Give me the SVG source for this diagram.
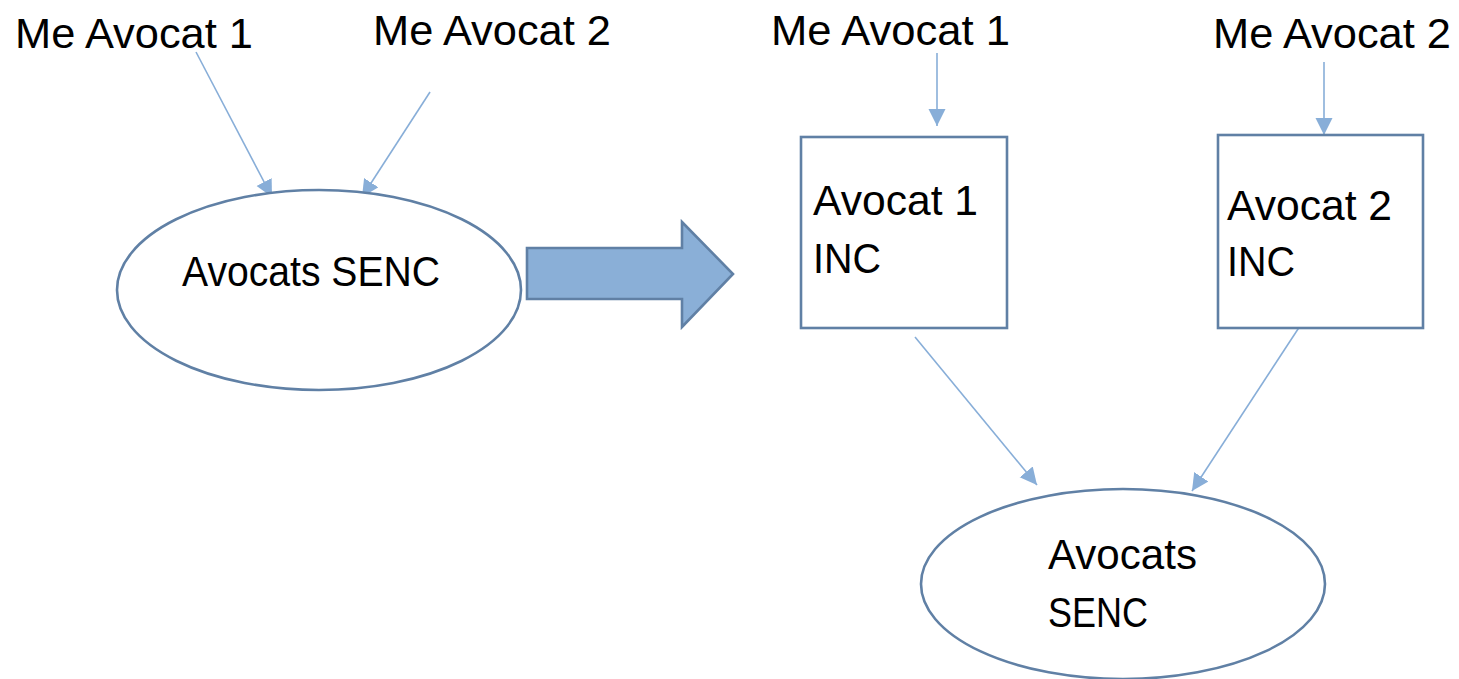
<svg xmlns="http://www.w3.org/2000/svg" width="1459" height="679" viewBox="0 0 1459 679">
<style>
text{font-family:"Liberation Sans",Arial,sans-serif;font-size:42.5px;fill:#000}
.shape{fill:#fff;stroke:#6080a5;stroke-width:2.6}
.conn{stroke:#88aed8;stroke-width:1.6;fill:none;marker-end:url(#ah)}
</style>
<defs>
<marker id="ah" markerUnits="userSpaceOnUse" markerWidth="20" markerHeight="18" refX="17" refY="8.5" orient="auto">
<path d="M0,0 L17,8.5 L0,17 Z" fill="#88aed8"/>
</marker>
</defs>
<rect width="1459" height="679" fill="#fff"/>
<g id="connectors">
<line class="conn" x1="196" y1="52" x2="272" y2="197"/>
<line class="conn" x1="430" y1="92" x2="362" y2="197"/>
<line class="conn" x1="937" y1="53" x2="937" y2="126"/>
<line class="conn" x1="1324" y1="62" x2="1324" y2="135"/>
<line class="conn" x1="915" y1="337" x2="1037" y2="485"/>
<line class="conn" x1="1300" y1="326" x2="1192" y2="491"/>
</g>
<g id="label-me1-left"><text x="15" y="48" textLength="238" lengthAdjust="spacingAndGlyphs">Me Avocat 1</text></g>
<g id="label-me2-left"><text x="373" y="45" textLength="238" lengthAdjust="spacingAndGlyphs">Me Avocat 2</text></g>
<g id="senc-left">
<ellipse class="shape" cx="319" cy="290" rx="202" ry="100"/>
<text x="182" y="286" textLength="258" lengthAdjust="spacingAndGlyphs">Avocats SENC</text>
</g>
<g id="block-arrow">
<path d="M527,248 L682,248 L682,222 L733,274 L682,327 L682,299 L527,299 Z" fill="#8aafd7" stroke="#6080a5" stroke-width="2.6" stroke-linejoin="miter"/>
</g>
<g id="label-me1-right"><text x="771" y="45" textLength="239" lengthAdjust="spacingAndGlyphs">Me Avocat 1</text></g>
<g id="label-me2-right"><text x="1213" y="48" textLength="238" lengthAdjust="spacingAndGlyphs">Me Avocat 2</text></g>
<g id="inc1">
<rect class="shape" x="801" y="137" width="206" height="191"/>
<text x="813" y="215" textLength="165" lengthAdjust="spacingAndGlyphs">Avocat 1</text>
<text x="813" y="273" textLength="68" lengthAdjust="spacingAndGlyphs">INC</text>
</g>
<g id="inc2">
<rect class="shape" x="1218" y="135" width="205" height="193"/>
<text x="1227" y="220" textLength="165" lengthAdjust="spacingAndGlyphs">Avocat 2</text>
<text x="1227" y="276" textLength="68" lengthAdjust="spacingAndGlyphs">INC</text>
</g>
<g id="senc-right">
<ellipse class="shape" cx="1123" cy="584" rx="202" ry="95"/>
<text x="1048" y="569" textLength="149" lengthAdjust="spacingAndGlyphs">Avocats</text>
<text x="1048" y="627" textLength="100" lengthAdjust="spacingAndGlyphs">SENC</text>
</g>
</svg>
